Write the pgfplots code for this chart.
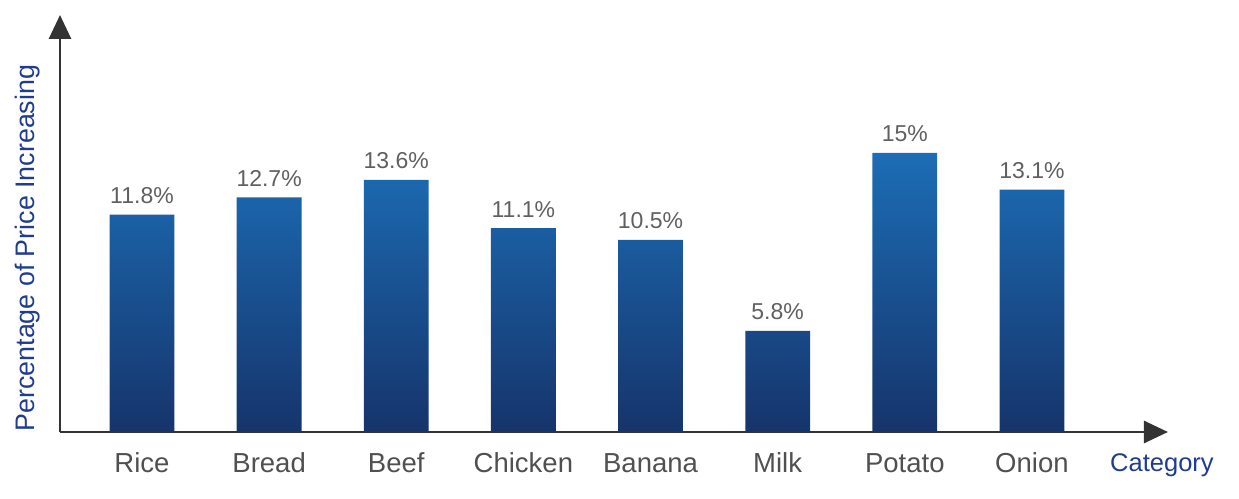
\documentclass[border=0pt]{standalone}
\usepackage{fontspec}
\setmainfont{Liberation Sans}
\usepackage{pgfplots}
\pgfplotsset{compat=1.18}
\usetikzlibrary{arrows.meta}
\definecolor{barTop}{HTML}{1C6DB6}
\definecolor{barBot}{HTML}{16346B}
\definecolor{navy}{HTML}{1F3C91}
\definecolor{tickgray}{HTML}{505050}
\definecolor{valgray}{HTML}{606060}
\definecolor{axisgray}{HTML}{333333}
\begin{document}
\begin{tikzpicture}
\path[use as bounding box] (0bp,0bp) rectangle (1239bp,499bp);
\begin{axis}[
  at={(60bp,67bp)}, anchor=south west,
  scale only axis, width=1108bp, height=417bp,
  xmin=-0.645, xmax=8.07, ymin=0.57, ymax=22.12,
  axis x line=bottom, axis y line=left,
  axis line style={draw=axisgray, line width=2.8bp, -{Triangle[length=24bp,width=22bp]}},
  axis on top,
  xtick={0,...,7},
  xticklabels={Rice,Bread,Beef,Chicken,Banana,Milk,Potato,Onion},
  ytick=\empty,
  major tick length=0pt,
  xticklabel style={anchor=base, yshift=-40bp, font=\fontsize{27.5bp}{30bp}\selectfont, text=tickgray},
  xlabel={Category},
  xlabel style={at={(axis description cs:1,0)}, anchor=base, xshift=-6bp, yshift=-39bp, font=\fontsize{25.5bp}{28bp}\selectfont, text=navy},
  ylabel={Percentage of Price Increasing},
  ylabel style={at={(axis description cs:-0.0226,0.441)}, anchor=base, rotate=0, font=\fontsize{26.8bp}{29bp}\selectfont, text=navy},
  /pgf/number format/assume math mode=true,
  nodes near coords={\pgfmathprintnumber[fixed,precision=1]{\pgfplotspointmeta}\%},
  point meta=y,
  nodes near coords style={anchor=base, yshift=11bp, font=\fontsize{23bp}{26bp}\selectfont, text=valgray},
]
\addplot[ybar, bar width=0.51, draw=none, top color=barTop, bottom color=barBot] coordinates {
  (0,11.8) (1,12.7) (2,13.6) (3,11.1) (4,10.5) (5,5.8) (6,15) (7,13.1)
};
\end{axis}
\end{tikzpicture}
\end{document}
